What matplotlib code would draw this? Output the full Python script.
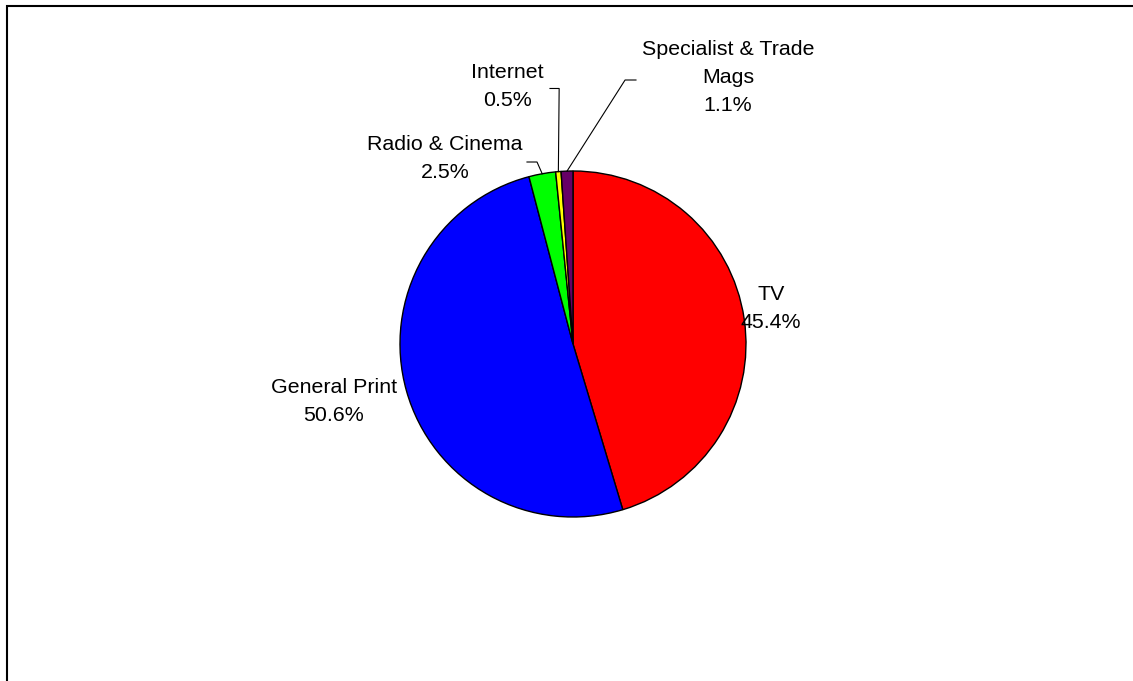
import numpy as np
import matplotlib
matplotlib.use('Agg')
import matplotlib.pyplot as plt
from matplotlib.patches import Rectangle

# data
categories = ['TV', 'General Print', 'Radio & Cinema', 'Internet',
              'Specialist & Trade\nMags']
shares = [45.4, 50.6, 2.5, 0.5, 1.1]
colors = ['#FF0000', '#0000FF', '#00FF00', '#FFFF00', '#660066']

# label placement (data units, pie radius = 1)
label_pos = [(1.145, 0.208), (-1.382, -0.33), (-0.74, 1.075),
             (-0.38, 1.49), (0.896, 1.543)]
# leader elbows for the small slices: (elbow, end), None = no leader
leaders = [None, None,
           [(-0.208, 1.052), (-0.266, 1.052)],
           [(-0.080, 1.477), (-0.133, 1.477)],
           [(0.301, 1.526), (0.364, 1.526)]]

plt.rcParams['font.family'] = ['Liberation Sans', 'DejaVu Sans']

W, H = 1133, 681
fig = plt.figure(figsize=(W / 100, H / 100), dpi=100)

# outer frame (only left and top edges visible in the picture)
fig.patches.append(Rectangle((7 / W, -0.1), 1.2, (H - 6) / H + 0.1,
                             transform=fig.transFigure, fill=False,
                             edgecolor='black', linewidth=1.5))

cx, cy, r = 573, 344, 173
ax = fig.add_axes([(cx - r) / W, (H - cy - r) / H, 2 * r / W, 2 * r / H])
wedges, _ = ax.pie(shares, colors=colors, startangle=90, counterclock=False,
                   radius=1, wedgeprops=dict(edgecolor='black', linewidth=1))
ax.set_xlim(-1, 1)
ax.set_ylim(-1, 1)
ax.set_aspect('equal')
ax.axis('off')

for w, cat, val, pos, ld in zip(wedges, categories, shares, label_pos, leaders):
    ax.text(pos[0], pos[1], '%s\n%.1f%%' % (cat, val), ha='center',
            va='center', fontsize=15.4, linespacing=1.6, clip_on=False)
    if ld:
        ang = np.deg2rad((w.theta1 + w.theta2) / 2)
        xs = [np.cos(ang)] + [p[0] for p in ld]
        ys = [np.sin(ang)] + [p[1] for p in ld]
        ax.plot(xs, ys, color='black', linewidth=0.8, clip_on=False)

fig.savefig('out.png', dpi=100)
